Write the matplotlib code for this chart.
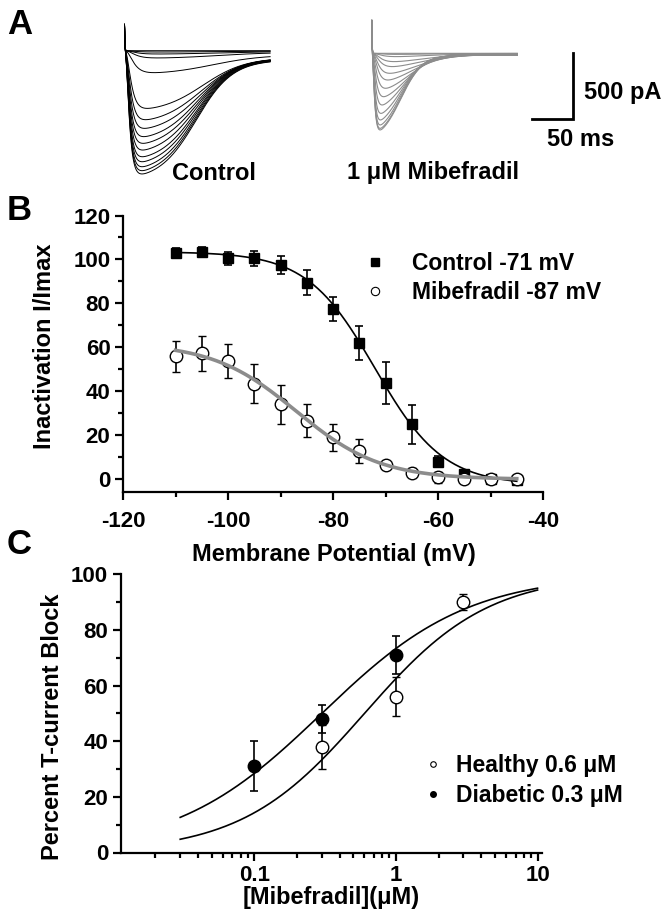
import numpy as np
import matplotlib
matplotlib.use('Agg')
import matplotlib.pyplot as plt
from matplotlib.lines import Line2D
from matplotlib.ticker import MultipleLocator, LogLocator, NullFormatter

plt.rcParams['font.family'] = ['Liberation Sans', 'DejaVu Sans']
plt.rcParams['font.weight'] = 'bold'
plt.rcParams['axes.labelweight'] = 'bold'
plt.rcParams['axes.unicode_minus'] = False

# ---- panel A: peak current of each trace (pA)
control_peaks = [0, 10, 25, 55, 167, 439, 525, 591, 654, 705, 756, 807, 845, 883, 913, 938]
mibef_peaks = [0, 8, 25, 63, 101, 152, 203, 266, 330, 393, 457, 507, 545, 571, 583]
scale_ms = 50
scale_pa = 500

# ---- panel B: steady-state inactivation
volt = [-110, -105, -100, -95, -90, -85, -80, -75, -70, -65, -60, -55, -50, -45]
control_inact = [103, 103.5, 100.5, 100.5, 97.4, 89.4, 77.3, 62.1, 43.9, 25, 8, 2.5, 0.3, -0.3]
control_err = [2, 2, 3, 3.5, 4, 5.7, 5.5, 7.6, 9.6, 9, 2.5, 1.5, 1, 1]
mibef_inact = [56, 57.3, 53.9, 43.6, 34.1, 26.6, 19.1, 12.9, 6.5, 3.0, 0.9, 0, 0, 0]
mibef_err = [7, 8, 7.6, 8.8, 9, 7.5, 6, 5.3, 1.5, 2, 2.5, 1, 1, 1]
# Boltzmann fits: top, bottom, V50, slope
control_fit = [103.5, -2.5, -72, 6.5]
mibef_fit = [62, 0, -87, 8]

# ---- panel C: dose-response
conc_healthy = [0.3, 1, 3]
block_healthy = [38, 56, 90]
err_healthy = [8, 7, 3]
conc_diabetic = [0.1, 0.3, 1]
block_diabetic = [31, 48, 71]
err_diabetic = [9, 5, 7]
# Hill fits: IC50 (uM), slope
healthy_fit = [0.6, 1.0]
diabetic_fit = [0.3, 0.84]

W, H = 668, 918


def fx(px):
    return px / W


def fy(py):
    return 1 - py / H


def box(left, top, right, bottom):
    return [fx(left), fy(bottom), (right - left) / W, (bottom - top) / H]


def trace(t, amp, tm, t50, s, ss):
    act = (1 - np.exp(-t / tm)) ** 3
    dec = ss + (1 - ss) / (1 + np.exp((t - t50) / s))
    w = act * dec
    return -amp * w / w.max()


fig = plt.figure(figsize=(6.68, 9.18), dpi=100)

# ================= A =================
ms_per_px = 1.202
pa_per_px = 7.61
ax_a = fig.add_axes([0, fy(240), 1, 240 / H])
ax_a.set_xlim(0, W * ms_per_px)
ax_a.set_ylim(-(240 - 50.7) * pa_per_px, 50.7 * pa_per_px)
ax_a.axis('off')

t = np.linspace(0, 175, 2500)
t0_c = 124.5 * ms_per_px
t0_m = 371.7 * ms_per_px
base_m = -20

amax = max(control_peaks)
for a in control_peaks:
    q = (1 - a / amax) ** 2
    y = trace(t, a, 3.5 + 5 * q, 86 + 30 * q, 22 + 12 * q, 0.07 + 0.15 * q)
    y = y + 200 * np.exp(-t / 0.4)
    ax_a.plot(t0_c + t, y, color='black', lw=0.7)

amax = max(mibef_peaks)
for a in mibef_peaks:
    q = (1 - a / amax) ** 2
    y = trace(t, a, 2.0 + 6 * q, 35 + 30 * q, 13 + 15 * q, 0.02 + 0.05 * q)
    y = y + 250 * np.exp(-t / 0.4)
    ax_a.plot(t0_m + t, base_m + y, color='#8c8c8c', lw=0.8)

# scale bar
xb = 573.3 * ms_per_px
ax_a.plot([xb - scale_ms, xb, xb], [base_m - scale_pa, base_m - scale_pa, base_m],
          color='black', lw=2.0, solid_joinstyle='miter')

fig.text(fx(584), fy(92.7), '500 pA', fontsize=17, ha='left', va='center')
fig.text(fx(581), fy(139.3), '50 ms', fontsize=17, ha='center', va='center')
fig.text(fx(214), fy(173), 'Control', fontsize=17, ha='center', va='center')
fig.text(fx(433), fy(173), '1 \u03bcM Mibefradil', fontsize=17, ha='center', va='center')

fig.text(fx(20), fy(24), 'A', fontsize=25, ha='center', va='center')
fig.text(fx(19), fy(210), 'B', fontsize=25, ha='center', va='center')
fig.text(fx(19), fy(545), 'C', fontsize=25, ha='center', va='center')


def style(ax):
    for sp in ['top', 'right']:
        ax.spines[sp].set_visible(False)
    for sp in ['left', 'bottom']:
        ax.spines[sp].set_linewidth(1.6)
    ax.tick_params(which='major', direction='out', length=6, width=1.6, labelsize=16, pad=3)
    ax.tick_params(which='minor', direction='out', length=3.5, width=1.6)


# ================= B =================
ax_b = fig.add_axes(box(123, 215.5, 543, 491.7))
style(ax_b)
ax_b.tick_params(axis='x', which='major', pad=8)
ax_b.errorbar(volt, control_inact, yerr=control_err, fmt='s', color='black', ms=7.8,
              capsize=3, elinewidth=1.2, capthick=1.2, zorder=3)
ax_b.errorbar(volt, mibef_inact, yerr=mibef_err, fmt='o', mfc='white', mec='black', mew=1.0,
              ms=9, ecolor='black', capsize=3, elinewidth=1.2, capthick=1.2, zorder=4)
vv = np.linspace(-110, -45, 300)
top, bot, v50, k = control_fit
ax_b.plot(vv, bot + (top - bot) / (1 + np.exp((vv - v50) / k)), color='black', lw=1.2, zorder=5)
top, bot, v50, k = mibef_fit
ax_b.plot(vv, bot + (top - bot) / (1 + np.exp((vv - v50) / k)), color='#8c8c8c', lw=2.6, zorder=5)
ax_b.set_xlim(-120, -40)
ax_b.set_ylim(-5.6, 120)
ax_b.xaxis.set_major_locator(MultipleLocator(20))
ax_b.xaxis.set_minor_locator(MultipleLocator(10))
ax_b.yaxis.set_major_locator(MultipleLocator(20))
ax_b.yaxis.set_minor_locator(MultipleLocator(10))
ax_b.set_ylabel('Inactivation I/Imax', fontsize=17)
ax_b.set_xlabel('Membrane Potential (mV)', fontsize=17)
ax_b.yaxis.set_label_coords(-0.16, 0.527)
ax_b.xaxis.set_label_coords(0.502, -0.186)
hb = [Line2D([], [], marker='s', ls='none', color='black', ms=5.5),
      Line2D([], [], marker='o', ls='none', mfc='white', mec='black', mew=0.8, ms=6)]
ax_b.legend(hb, ['Control -71 mV', 'Mibefradil -87 mV'], loc='upper left',
            bbox_to_anchor=(fx(363.5), fy(252.5)), bbox_transform=fig.transFigure,
            frameon=False, fontsize=16.5, handlelength=1.0, handletextpad=1.1,
            labelspacing=0.25, borderpad=0, borderaxespad=0)

# ================= C =================
ax_c = fig.add_axes(box(120.7, 574.3, 541.7, 852.5))
style(ax_c)
ax_c.set_xscale('log')
cc = np.logspace(np.log10(0.03), 1, 300)
ic, n = healthy_fit
ax_c.plot(cc, 100 / (1 + (ic / cc) ** n), color='black', lw=1.2, zorder=2)
ic, n = diabetic_fit
ax_c.plot(cc, 100 / (1 + (ic / cc) ** n), color='black', lw=1.2, zorder=2)
ax_c.errorbar(conc_healthy, block_healthy, yerr=err_healthy, fmt='o', mfc='white', mec='black',
              mew=1.0, ms=9, ecolor='black', capsize=3, elinewidth=1.2, capthick=1.2, zorder=3)
ax_c.errorbar(conc_diabetic, block_diabetic, yerr=err_diabetic, fmt='o', color='black',
              ms=9, capsize=3, elinewidth=1.2, capthick=1.2, zorder=4)
ax_c.set_xlim(0.0114, 10.7)
ax_c.set_ylim(0, 100)
ax_c.set_xticks([0.1, 1, 10])
ax_c.set_xticklabels(['0.1', '1', '10'])
ax_c.xaxis.set_minor_locator(LogLocator(base=10, subs=np.arange(2, 10)))
ax_c.xaxis.set_minor_formatter(NullFormatter())
ax_c.yaxis.set_major_locator(MultipleLocator(20))
ax_c.yaxis.set_minor_locator(MultipleLocator(10))
ax_c.set_ylabel('Percent T-current Block', fontsize=17)
ax_c.set_xlabel('[Mibefradil](\u03bcM)', fontsize=17)
ax_c.yaxis.set_label_coords(-0.135, 0.453)
ax_c.xaxis.set_label_coords(0.499, -0.12)
hc = [Line2D([], [], marker='o', ls='none', mfc='white', mec='black', mew=0.8, ms=4),
      Line2D([], [], marker='o', ls='none', color='black', ms=4)]
ax_c.legend(hc, ['Healthy 0.6 \u03bcM', 'Diabetic 0.3 \u03bcM'], loc='upper left',
            bbox_to_anchor=(fx(425.7), fy(754)), bbox_transform=fig.transFigure,
            frameon=False, fontsize=16.5, handlelength=0.6, handletextpad=0.72,
            labelspacing=0.3, borderpad=0, borderaxespad=0)

fig.savefig('out.png', dpi=100)
